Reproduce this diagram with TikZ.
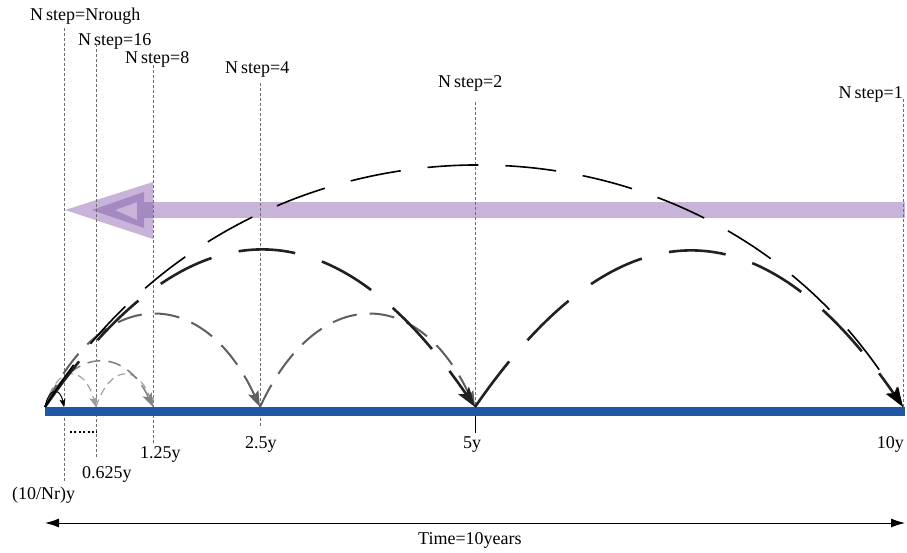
\documentclass[tikz,border=0pt]{standalone}
\usepackage{fontspec}
\setmainfont{Liberation Serif}
\usetikzlibrary{arrows.meta}
\definecolor{barblue}{RGB}{31,86,165}
\definecolor{lpurple}{RGB}{200,180,216}
\definecolor{dpurple}{RGB}{164,137,195}
\definecolor{gmid}{RGB}{95,95,95}
\definecolor{glight}{RGB}{130,130,130}
\definecolor{gpale}{RGB}{155,155,155}
\definecolor{guidegray}{RGB}{110,110,110}
\begin{document}
\begin{tikzpicture}[x=1pt,y=-1pt,
  lbl/.style={font=\fontsize{18}{20}\selectfont, inner sep=0pt},
  guide/.style={draw=guidegray, line width=0.7pt, dash pattern=on 3pt off 2pt},
  jumpone/.style={black, line width=1.6pt, dash pattern=on 51pt off 27pt,
     -{Stealth[length=20pt,width=13pt,inset=4pt]}},
  jumptwo/.style={black!87, line width=2.6pt, dash pattern=on 57pt off 28pt,
     -{Stealth[length=20pt,width=13pt,inset=4pt]}},
  jumpfour/.style={gmid, line width=2pt, dash pattern=on 25pt off 13pt,
     -{Stealth[length=16pt,width=11pt,inset=3pt]}},
  jumpeight/.style={glight, line width=1.6pt, dash pattern=on 13pt off 8pt,
     -{Stealth[length=14pt,width=10pt,inset=3pt]}},
  jumpsixteen/.style={gpale, line width=1.1pt, dash pattern=on 8pt off 5pt,
     -{Stealth[length=10pt,width=8pt,inset=2pt]}},
  jumprough/.style={black, line width=1pt,
     -{Stealth[length=8pt,width=6pt,inset=2pt]}}
]
\useasboundingbox (0,0) rectangle (907,552);

% axis points
\coordinate (p0) at (45,407);
\coordinate (pr) at (64,407);
\coordinate (p16) at (96,407);
\coordinate (p8) at (153,407);
\coordinate (p4) at (260,407);
\coordinate (p2) at (475,407);
\coordinate (p1) at (903,407);

% purple arrow
\fill[lpurple] (153,202) rectangle (905,218);
\fill[lpurple] (65,210) -- (153,182) -- (153,239) -- cycle;
\fill[dpurple, even odd rule] (92,210) -- (144,192) -- (144,228) -- cycle
   (115,210) -- (137,202) -- (137,220) -- cycle;
\fill[dpurple] (144,202) rectangle (153,218);

% labels
\node[lbl, anchor=base west] (lrough) at (30,20) {N\,step=Nrough};
\node[lbl, anchor=base west] (l16) at (78,45) {N\,step=16};
\node[lbl, anchor=base west] (l8) at (125,63) {N\,step=8};
\node[lbl, anchor=base west] (l4) at (225,73) {N\,step=4};
\node[lbl, anchor=base west] (l2) at (438,87) {N\,step=2};
\node[lbl, anchor=base east] (l1) at (903,98) {N\,step=1};

\node[lbl, anchor=base west] (b16) at (82,478) {0.625y};
\node[lbl, anchor=base west] (brough) at (12,499) {(10/Nr)y};
\node[lbl, anchor=base west] (b8) at (140,458) {1.25y};
\node[lbl, anchor=base west] (b4) at (245,448) {2.5y};
\node[lbl, anchor=base west] (b2) at (463,448) {5y};
\node[lbl, anchor=base east] (b1) at (904,448) {10y};
\node[lbl, anchor=base west] (btime) at (418,544) {Time=10years};

% guide lines
\coordinate (gr1) at (64,28);  \coordinate (gr2) at (64,483);
\coordinate (g161) at (96,44); \coordinate (g162) at (96,458);
\coordinate (g81) at (153,65); \coordinate (g82) at (153,443);
\coordinate (g41) at (260,83); \coordinate (g42) at (260,428);
\coordinate (g21) at (475,102);
\coordinate (g11) at (903,99);
\draw[guide] (gr1) -- (gr2);
\draw[guide] (g161) -- (g162);
\draw[guide] (g81) -- (g82);
\draw[guide] (g41) -- (g42);
\draw[guide] (g21) -- (p2);
\draw[guide] (g11) -- (p1);

% time bar
\fill[barblue] (45,407) rectangle (905,416);
\coordinate (tick) at (475,433);
\draw[black, line width=0.9pt] (475,416) -- (tick);

% dotted
\coordinate (d1) at (70,432); \coordinate (d2) at (97,432);
\draw[black, line width=1.6pt, dash pattern=on 2pt off 2.4pt] (d1) -- (d2);

% time arrow
\coordinate (ta) at (45,523); \coordinate (tb) at (905,523);
\draw[black, line width=0.9pt, {Latex[length=14pt,width=9pt]}-{Latex[length=14pt,width=9pt]}] (ta) -- (tb);

% jumps
\draw[jumpsixteen] (p0) .. controls +(12,-43) and +(-12,-43) .. (p16);
\draw[jumpsixteen] (p16) .. controls +(14,-43) and +(-14,-43) .. (p8);
\draw[jumpeight] (p0) .. controls +(28,-60) and +(-28,-60) .. (p8);
\draw[jumpfour] (p0) .. controls +(57,-122.7) and +(-57,-122.7) .. (p4);
\draw[jumpfour] (p4) .. controls +(57,-122.7) and +(-57,-122.7) .. (p2);
\draw[jumprough] (p0) .. controls +(4,-20) and +(-4,-20) .. (pr);
\draw[jumptwo] (p0) .. controls +(143.3,-208) and +(-143.3,-208) .. (p2);
\draw[jumptwo] (p2) .. controls +(142.7,-206.7) and +(-142.7,-206.7) .. (p1);
\draw[jumpone] (p0) .. controls +(196.4,-320.5) and +(-196.4,-320.5) .. (p1);
\end{tikzpicture}
\end{document}
